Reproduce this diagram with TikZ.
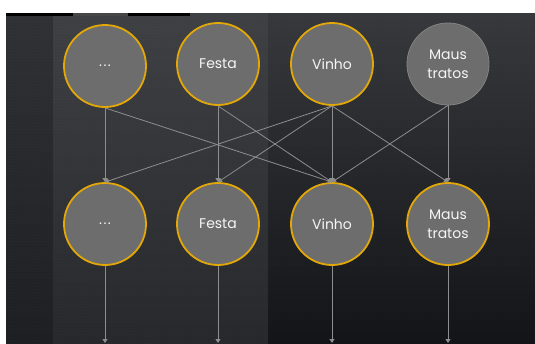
\documentclass[tikz,border=0pt]{standalone}
\usepackage{fontspec}
\setmainfont{Poppins}
\usetikzlibrary{arrows.meta,patterns}

\definecolor{nodegray}{HTML}{6D6D6D}
\definecolor{gold}{HTML}{E3A808}
\definecolor{wire}{HTML}{8E8E8E}
\definecolor{bgtop}{HTML}{36383C}
\definecolor{bgbot}{HTML}{131417}
\definecolor{paneltop}{HTML}{3E4044}
\definecolor{panelbot}{HTML}{27282B}
\definecolor{striptop}{HTML}{2F3135}
\definecolor{stripbot}{HTML}{1E1F22}

\tikzset{
  unit/.style={circle, minimum size=82pt, inner sep=0pt, fill=nodegray,
    draw=gold, line width=1.8pt, text=white!93!gray, align=center,
    font=\fontsize{14}{19}\selectfont},
  faded/.style={draw=nodegray!85!white, line width=0.8pt},
  link/.style={draw=wire, line width=0.8pt,
    -{Triangle[width=5pt,length=4pt]}}
}

\begin{document}
\begin{tikzpicture}[x=1pt,y=-1pt]
\useasboundingbox (0,0) rectangle (535,343);
\fill[white] (0,0) rectangle (535,343);

% background panels
\shade[top color=bgtop, bottom color=bgbot] (6,13) rectangle (535,343);
\shade[top color=striptop, bottom color=stripbot] (6,13) rectangle (53,343);
\shade[top color=paneltop, bottom color=panelbot] (53,13) rectangle (268,343);
\fill[pattern=dots, pattern color=white, opacity=0.06] (6,13) rectangle (535,343);

% thin bar along the top edge
\fill[black] (6,13) rectangle (190,15.5);
\fill[gray!55!black] (73,13) rectangle (128,15.5);

% input row
\node[unit] (t1) at (105,66) {.\kern1.5pt.\kern1.5pt.};
\node[unit] (t2) at (218,64) {Festa};
\node[unit] (t3) at (332,64) {Vinho};
\node[unit, faded] (t4) at (448,64) {Maus\\tratos};

% output row
\node[unit] (b1) at (105,224) {.\kern1.5pt.\kern1.5pt.};
\node[unit] (b2) at (218,224) {Festa};
\node[unit] (b3) at (332,224) {Vinho};
\node[unit] (b4) at (448,224) {Maus\\tratos};

% loose ends at the bottom edge
\coordinate (e1) at (105,343);
\coordinate (e2) at (218,343);
\coordinate (e3) at (332,343);
\coordinate (e4) at (448,343);

% connections between the rows
\draw[link] (t1.south) -- (b1.north);
\draw[link] (t1.south) -- (b3.north);
\draw[link] (t2.south) -- (b2.north);
\draw[link] (t2.south) -- (b3.north);
\draw[link] (t3.south) -- (b1.north);
\draw[link] (t3.south) -- (b2.north);
\draw[link] (t3.south) -- (b3.north);
\draw[link] (t3.south) -- (b4.north);
\draw[link] (t4.south) -- (b3.north);
\draw[link] (t4.south) -- (b4.north);

% outgoing arrows
\draw[link] (b1.south) -- (e1);
\draw[link] (b2.south) -- (e2);
\draw[link] (b3.south) -- (e3);
\draw[link] (b4.south) -- (e4);
\end{tikzpicture}
\end{document}
